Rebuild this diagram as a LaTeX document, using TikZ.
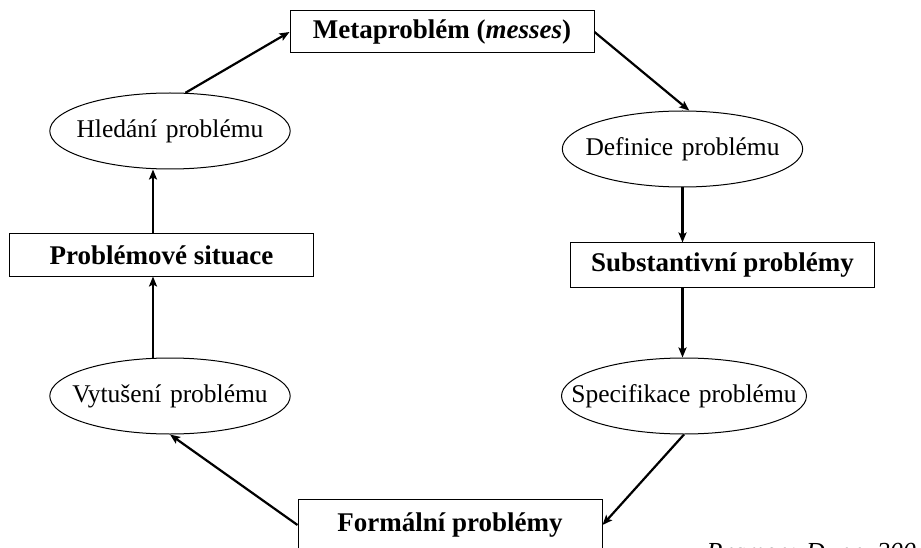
\documentclass[tikz,border=0pt]{standalone}
\usepackage{fontspec}
\setmainfont{Liberation Serif}
\usetikzlibrary{arrows.meta}
\usetikzlibrary{shapes}
\usetikzlibrary{positioning}

\begin{document}
\begin{tikzpicture}[x = 1pt, y = -1pt]
\tikzset{
   >={Stealth[length = 10pt, width = 8pt, inset = 2pt]},
   flow/.style = {->, line width = 2.2pt},
   phase_box/.style = {rectangle, draw, line width = 1pt, minimum width = 304pt, minimum height = 42pt,
                       font = \fontsize{27}{30}\selectfont\bfseries},
   stage/.style = {ellipse, draw, line width = 1pt, text width = 230pt, align = center,
                   inner xsep = -30pt, inner ysep = 0pt, minimum height = 76pt,
                   font = \fontsize{25.5}{29}\selectfont}
}
  \useasboundingbox (0,0) rectangle (921,548);
  \clip (0,0) rectangle (921,548);

  \node[phase_box] (meta) at (442,32) {Metaproblém (\textit{messes})};

  \node[stage] (search) [below of = meta, node distance = 99pt, xshift = -272pt] {Hledání problému};
  \node[phase_box] (sit) [below of = search, node distance = 124pt, xshift = -8.5pt] {Problémové situace};
  \node[stage] (sense) [below of = sit, node distance = 141pt, xshift = 8.5pt] {Vytušení problému};
  \node[phase_box] (formal) [below of = sense, node distance = 129pt, xshift = 280pt, minimum height = 52pt] {Formální problémy};

  \node[stage, minimum width = 239pt] (defin) [below of = meta, node distance = 117pt, xshift = 240.5pt] {Definice problému};
  \node[phase_box, minimum height = 44pt] (subst) [below of = defin, node distance = 116pt, xshift = 40pt] {Substantivní problémy};
  \node[stage, minimum width = 245pt] (spec) [below of = subst, node distance = 131pt, xshift = -38.5pt] {Specifikace problému};

  \node[anchor = base west, font = \fontsize{26}{30}\selectfont\itshape] (source) at (703,560) {Pramen: Dunn, 2004};

  % cycle
  \draw[flow] (search.68) -- (meta.west);
  \draw[flow] (meta.east) -- (defin.80);
  \draw[flow] (defin.south) -- (defin.south |- subst.north);
  \draw[flow] (subst.south -| defin.south) -- (spec.north -| defin.south);
  \draw[flow] (spec.south) -- (formal.east);
  \draw[flow] (formal.west) -- (sense.south);
  \draw[flow] ([xshift = -17pt]sense.north) -- ([xshift = -8.5pt]sit.south);
  \draw[flow] ([xshift = -8.5pt]sit.north) -- ([xshift = -17pt]search.south);

\end{tikzpicture}
\end{document}
